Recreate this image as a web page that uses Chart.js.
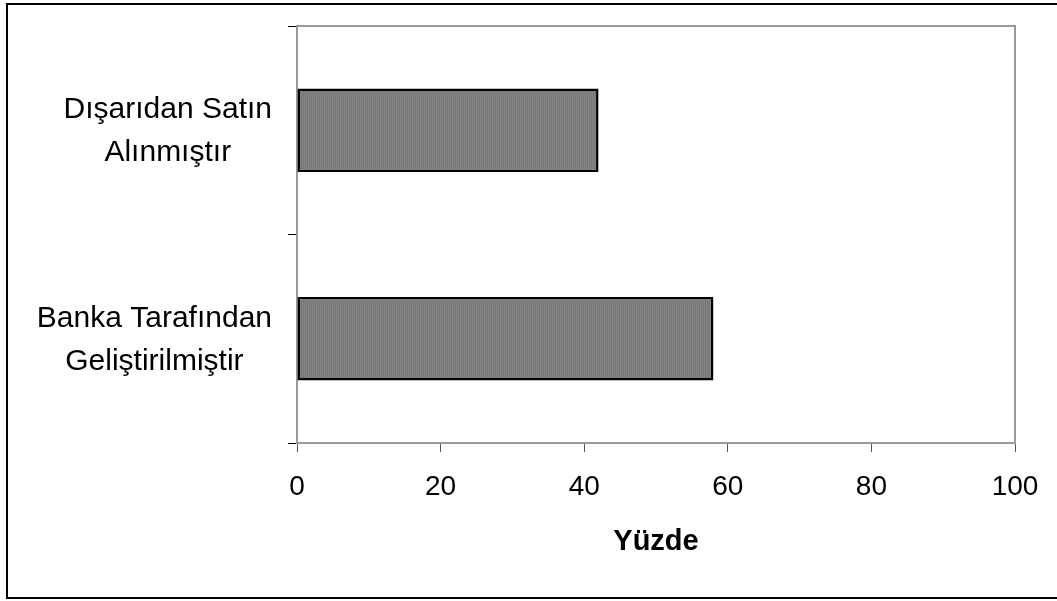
<!DOCTYPE html>
<html>
<head>
<meta charset="utf-8">
<script src="https://cdn.jsdelivr.net/npm/chart.js@4/dist/chart.umd.min.js"></script>
<style>
  html, body { margin: 0; padding: 0; background: #fff; overflow: hidden; }
  #wrap { position: relative; width: 1057px; height: 601px; }
  #frame { position: absolute; left: 6px; top: 3px; width: 1070px; height: 596px;
           box-sizing: border-box; border: 2px solid #000; pointer-events: none; }
</style>
</head>
<body>
<div id="wrap">
  <canvas id="chart" width="1057" height="601"></canvas>
  <div id="frame"></div>
</div>
<script>
// Datos del gráfico
const categories = [["Dışarıdan Satın", "Alınmıştır"], ["Banka Tarafından", "Geliştirilmiştir"]];
const values = [42, 58];
const xTicks = [0, 20, 40, 60, 80, 100];
const xTitle = "Yüzde";

const FONT = "'Liberation Sans', Arial, sans-serif";

// Relleno gris con textura fina
function makePattern() {
  const c = document.createElement("canvas");
  c.width = 2; c.height = 2;
  const g = c.getContext("2d");
  g.fillStyle = "#838383"; g.fillRect(0, 0, 2, 2);
  g.fillStyle = "#787878"; g.fillRect(1, 0, 1, 2);
  return g.createPattern(c, "repeat");
}

// Borde gris del área del gráfico
const plotBorder = {
  id: "plotBorder",
  beforeDatasetsDraw(chart) {
    const { ctx, chartArea: a } = chart;
    ctx.save();
    ctx.strokeStyle = "#999";
    ctx.lineWidth = 2;
    ctx.strokeRect(a.left, a.top, a.right - a.left, a.bottom - a.top);
    ctx.restore();
  }
};

// Etiquetas de categoría: bloque alineado a la derecha, líneas centradas
const catLabels = {
  id: "catLabels",
  afterDraw(chart) {
    const { ctx } = chart;
    const ys = chart.scales.y;
    const rightEdge = ys.right - 9 - 16;
    const lineGap = 43;
    ctx.save();
    ctx.font = "30px " + FONT;
    ctx.fillStyle = "#000";
    ctx.textAlign = "center";
    ctx.textBaseline = "middle";
    categories.forEach((lines, i) => {
      const y = ys.getPixelForValue(i);
      const widest = Math.max(...lines.map(l => ctx.measureText(l).width));
      const cx = rightEdge - widest / 2;
      lines.forEach((l, j) => {
        ctx.fillText(l, cx, y + 1 + (j - (lines.length - 1) / 2) * lineGap);
      });
    });
    ctx.restore();
  }
};

new Chart(document.getElementById("chart").getContext("2d"), {
  type: "bar",
  data: {
    labels: categories,
    datasets: [{
      data: values,
      backgroundColor: makePattern(),
      borderColor: "#000",
      borderWidth: 2.5,
      borderSkipped: false,
      categoryPercentage: 1,
      barPercentage: 0.4
    }]
  },
  options: {
    indexAxis: "y",
    responsive: false,
    animation: false,
    layout: { padding: { top: 26, right: 42, left: 0, bottom: 0 } },
    plugins: { legend: { display: false }, tooltip: { enabled: false } },
    scales: {
      x: {
        min: xTicks[0],
        max: xTicks[xTicks.length - 1],
        afterBuildTicks: s => { s.ticks = xTicks.map(v => ({ value: v })); },
        afterFit: s => { s.height = 158; },
        grid: { drawOnChartArea: false, drawTicks: true, tickLength: 9, color: "#555" },
        border: { display: true, color: "#222", width: 2 },
        ticks: { color: "#000", padding: 18, maxRotation: 0, font: { family: FONT, size: 28 } },
        title: {
          display: true, text: xTitle, color: "#000",
          font: { family: FONT, size: 29, weight: "bold" },
          padding: { top: 0, bottom: 42 }
        }
      },
      y: {
        afterFit: s => { s.width = 297; },
        grid: { offset: true, drawOnChartArea: false, drawTicks: true, tickLength: 9, color: "#000" },
        border: { display: true, color: "#333", width: 2 },
        ticks: { display: false }
      }
    }
  },
  plugins: [plotBorder, catLabels]
});
</script>
</body>
</html>
